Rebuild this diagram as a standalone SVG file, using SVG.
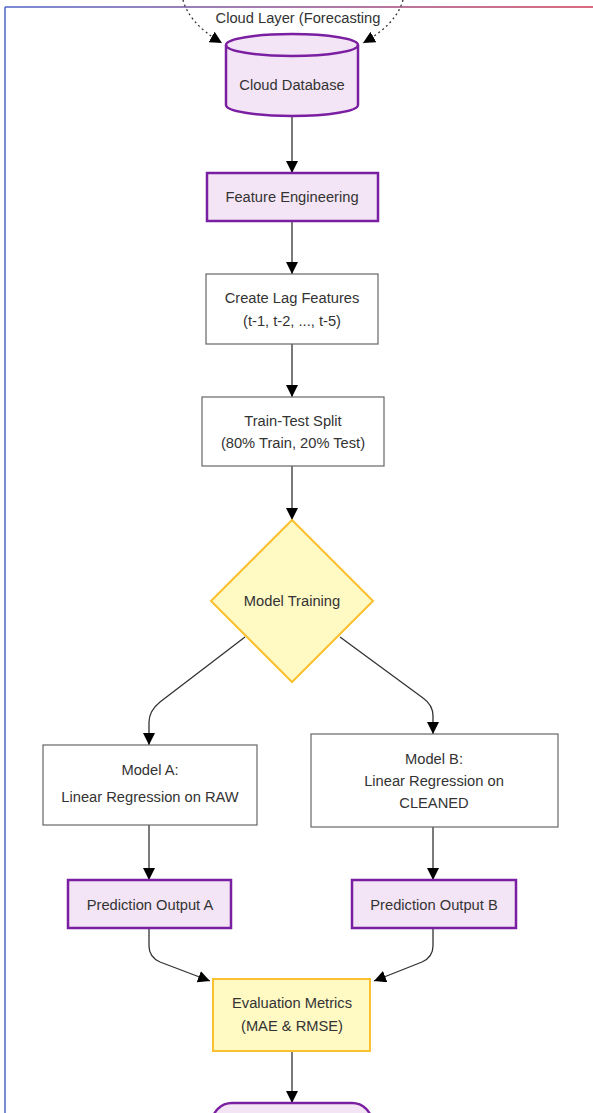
<svg xmlns="http://www.w3.org/2000/svg" width="593" height="1113" viewBox="0 0 593 1113">
<defs>
<linearGradient id="frameGrad" gradientUnits="userSpaceOnUse" x1="5" y1="0" x2="593" y2="0">
<stop offset="0" stop-color="#4f63c6"/>
<stop offset="1" stop-color="#cc3a55"/>
</linearGradient>
<marker id="arrow" viewBox="0 0 10 10" refX="10" refY="5" markerWidth="12" markerHeight="12" markerUnits="userSpaceOnUse" orient="auto">
<path d="M0,0 L10,5 L0,10 z" fill="#000"/>
</marker>
</defs>
<style>
text{font-family:"Liberation Sans",Arial,sans-serif;font-size:14.7px;fill:#333;text-anchor:middle;}
.purple{fill:#f3e5f5;stroke:#7b1fa2;stroke-width:2.5;}
.plain{fill:#fff;stroke:#666;stroke-width:1.2;}
.yellow{fill:#fff9c4;stroke:#fbc02d;stroke-width:2;}
.edge{fill:none;stroke:#333;stroke-width:1.3;marker-end:url(#arrow);}
.dotted{fill:none;stroke:#333;stroke-width:1.3;stroke-dasharray:2,3;marker-end:url(#arrow);}
</style>
<rect width="593" height="1113" fill="#fff"/>
<g id="frame">
<line x1="5" y1="7" x2="593" y2="7" stroke="url(#frameGrad)" stroke-width="1.5"/>
<line x1="5" y1="7" x2="5" y2="1113" stroke="#4f63c6" stroke-width="1.5"/>
</g>
<g id="cluster-label">
<text x="298" y="23">Cloud Layer (Forecasting</text>
</g>
<g id="connectors">
<path class="dotted" d="M182,-5 Q186,22 222,43"/>
<path class="dotted" d="M404,-5 Q400,22 363,43"/>
<path class="edge" d="M292,116 L292,173"/>
<path class="edge" d="M292,221 L292,274"/>
<path class="edge" d="M292,344 L292,397"/>
<path class="edge" d="M292,466 L292,520"/>
<path class="edge" d="M245,637 L160,702 Q149,711 149,722 L149,745"/>
<path class="edge" d="M340,637 L423,698 Q433,705 433,716 L433,734"/>
<path class="edge" d="M149,825 L149,880"/>
<path class="edge" d="M433,827 L433,880"/>
<path class="edge" d="M149,928 L149,946 Q149,957 160,962 L210,981"/>
<path class="edge" d="M433,928 L433,946 Q433,957 422,962 L374,981"/>
<path class="edge" d="M292,1051 L292,1103"/>
</g>
<g id="cloud-database">
<path class="purple" d="M226,45 A66,11 0 0,1 358,45 L358,105 A66,11 0 0,1 226,105 Z"/>
<path class="purple" style="fill:none" d="M226,45 A66,11 0 0,0 358,45"/>
<text x="292" y="90">Cloud Database</text>
</g>
<g id="feature-engineering">
<rect class="purple" x="207" y="173" width="171" height="48"/>
<text x="292" y="202">Feature Engineering</text>
</g>
<g id="create-lag-features">
<rect class="plain" x="206" y="274" width="172" height="70"/>
<text x="292" y="303">Create Lag Features</text>
<text x="292" y="326">(t-1, t-2, ..., t-5)</text>
</g>
<g id="train-test-split">
<rect class="plain" x="202" y="397" width="182" height="69"/>
<text x="293" y="426">Train-Test Split</text>
<text x="293" y="448">(80% Train, 20% Test)</text>
</g>
<g id="model-training">
<polygon class="yellow" points="292,520 373,601 292,682 211,601"/>
<text x="292" y="606">Model Training</text>
</g>
<g id="model-a">
<rect class="plain" x="43" y="745" width="214" height="80"/>
<text x="150" y="775">Model A:</text>
<text x="150" y="802">Linear Regression on RAW</text>
</g>
<g id="model-b">
<rect class="plain" x="311" y="734" width="247" height="93"/>
<text x="434" y="764">Model B:</text>
<text x="434" y="786">Linear Regression on</text>
<text x="434" y="808">CLEANED</text>
</g>
<g id="prediction-a">
<rect class="purple" x="68" y="880" width="163" height="48"/>
<text x="150" y="910">Prediction Output A</text>
</g>
<g id="prediction-b">
<rect class="purple" x="352" y="880" width="164" height="48"/>
<text x="434" y="910">Prediction Output B</text>
</g>
<g id="evaluation-metrics">
<rect class="yellow" x="213" y="979" width="157" height="72"/>
<text x="292" y="1008">Evaluation Metrics</text>
<text x="292" y="1031">(MAE &amp; RMSE)</text>
</g>
<g id="final-node">
<rect class="purple" x="212" y="1103" width="160" height="44" rx="20"/>
</g>
</svg>
